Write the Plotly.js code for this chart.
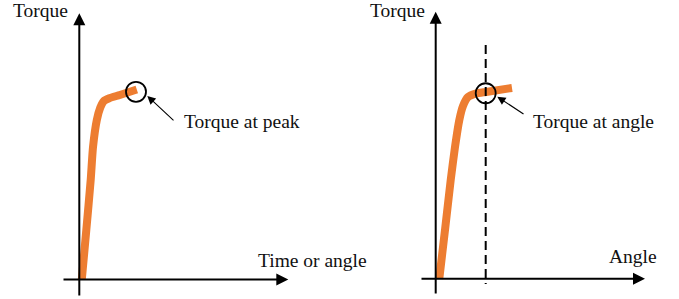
<!DOCTYPE html>
<html>
<head>
<meta charset="utf-8">
<script src="https://cdn.plot.ly/plotly-3.0.1.min.js"></script>
<style>html,body{margin:0;padding:0;background:#fff;}#chart{width:679px;height:299px;}</style>
</head>
<body>
<div id="chart"></div>
<script>
// ---- data (schematic units: angle ~ px, torque scaled so plateau ~100) ----
const angleLeft  = [2.5, 7, 11.4, 13.7, 17.5, 21, 24.5, 30, 40.5, 57.5];
const torqueLeft = [0, 26, 52.4, 69.7, 83.9, 90.5, 93.9, 95.4, 97.1, 100];
const peakAngle  = [56.7];
const peakTorque = [98.8];

const angleRight  = [3.6, 9.3, 15, 19.3, 23.6, 27.3, 32.3, 40, 50.3, 76.3];
const torqueRight = [0, 25.6, 51.9, 69.3, 83.5, 90.9, 95.6, 97.4, 98.3, 100.4];
const markAngle   = [50];
const markTorque  = [97.6];

const yLabel = "Torque";
const xLabelLeft = "Time or angle";
const xLabelRight = "Angle";
const noteLeft = "Torque at peak";
const noteRight = "Torque at angle";

// ---- layout geometry ----
const W = 679, H = 299;
const split = 0.5;
const ky = 1.9;                  // px per torque unit
const oL = {x: 79.3, y: 279.5};  // origin pixels, left panel
const oR = {x: 435.7, y: 278.7}; // origin pixels, right panel
const splitPx = W * split;

const orange = '#ED7D31';
const ink = '#000';
const font = {family: 'Liberation Serif, Times New Roman, serif', size: 19.5, color: '#111'};

function yRange(o){ return [-(H - o.y)/ky, o.y/ky]; }
const toY = (o, py) => (o.y - py)/ky;

const traces = [
  {x: angleLeft, y: torqueLeft, xaxis: 'x', yaxis: 'y', mode: 'lines',
   line: {color: orange, width: 8, shape: 'spline', smoothing: 0.6}, hoverinfo: 'skip'},
  {x: peakAngle, y: peakTorque, xaxis: 'x', yaxis: 'y', mode: 'markers',
   marker: {symbol: 'circle-open', size: 20, color: ink, line: {width: 1.8, color: ink}}, hoverinfo: 'skip'},
  {x: angleRight, y: torqueRight, xaxis: 'x2', yaxis: 'y2', mode: 'lines',
   line: {color: orange, width: 8, shape: 'spline', smoothing: 0.6}, hoverinfo: 'skip'},
  {x: markAngle, y: markTorque, xaxis: 'x2', yaxis: 'y2', mode: 'markers',
   marker: {symbol: 'circle-open', size: 20, color: ink, line: {width: 1.8, color: ink}}, hoverinfo: 'skip'}
];

const hidden = {visible: false, fixedrange: true, showgrid: false, zeroline: false};

function axisArrow(xr, yr, x, y, ax, ay, w, size){
  return {xref: xr, yref: yr, axref: xr, ayref: yr, x: x, y: y, ax: ax, ay: ay,
          text: '', showarrow: true, arrowhead: 2, arrowwidth: w, arrowsize: size,
          arrowcolor: ink, standoff: 0, startstandoff: 0};
}
function label(txt, px, py){
  return {xref: 'paper', yref: 'paper', x: px / W, y: 1 - py / H, xanchor: 'left', yanchor: 'middle',
          text: txt, showarrow: false, font: font, borderpad: 0};
}

const annotations = [
  // axes
  axisArrow('x', 'y', 0, toY(oL, 13.3), 0, toY(oL, 297), 2, 1.2),
  axisArrow('x', 'y', 288.3 - oL.x, 0, 62 - oL.x, 0, 2, 1.2),
  axisArrow('x2', 'y2', 0, toY(oR, 11.7), 0, toY(oR, 295), 2, 1.2),
  axisArrow('x2', 'y2', 645 - oR.x, 0, 420 - oR.x, 0, 2, 1.2),
  // pointers
  axisArrow('x', 'y', 147.3 - oL.x, toY(oL, 96), 175 - oL.x, toY(oL, 121.7), 1.1, 1.5),
  axisArrow('x2', 'y2', 497.3 - oR.x, toY(oR, 96.7), 525 - oR.x, toY(oR, 115), 1.1, 1.5),
  // labels
  label(yLabel, 12, 10.4),
  label(noteLeft, 183.3, 121.7),
  label(xLabelLeft, 256.7, 260.7),
  label(yLabel, 369.3, 10.9),
  label(noteRight, 532.3, 121.7),
  label(xLabelRight, 608.3, 256.7)
];

const layout = {
  width: W, height: H,
  margin: {l: 0, r: 0, t: 0, b: 0},
  paper_bgcolor: '#fff', plot_bgcolor: 'rgba(0,0,0,0)',
  showlegend: false,
  xaxis: Object.assign({domain: [0, split], range: [-oL.x, splitPx - oL.x]}, hidden),
  yaxis: Object.assign({domain: [0, 1], range: yRange(oL)}, hidden),
  xaxis2: Object.assign({domain: [split, 1], range: [splitPx - oR.x, W - oR.x], anchor: 'y2'}, hidden),
  yaxis2: Object.assign({domain: [0, 1], range: yRange(oR), anchor: 'x2'}, hidden),
  shapes: [
    {type: 'line', xref: 'x2', yref: 'y2', x0: markAngle[0], x1: markAngle[0],
     y0: toY(oR, 45), y1: toY(oR, 284), layer: 'above',
     line: {color: ink, width: 2, dash: '9px,5px'}}
  ],
  annotations: annotations
};

Plotly.newPlot('chart', traces, layout, {staticPlot: true, displayModeBar: false});
</script>
</body>
</html>
